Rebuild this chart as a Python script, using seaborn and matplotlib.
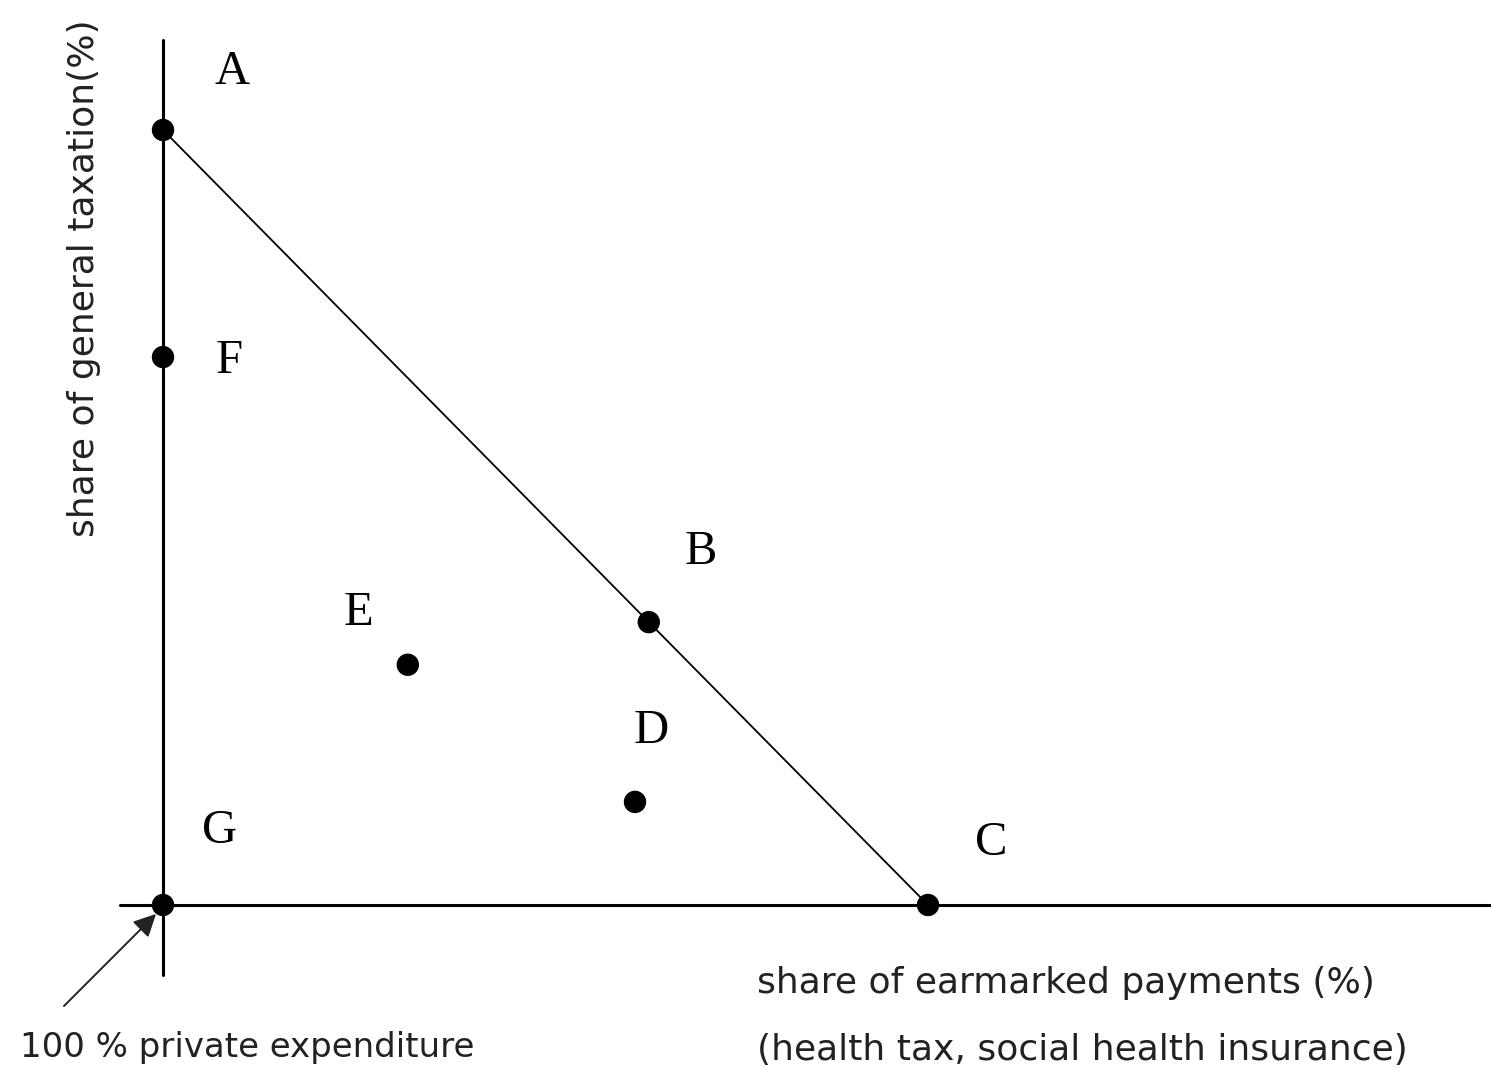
import matplotlib
matplotlib.use("Agg")
import matplotlib.pyplot as plt
import seaborn as sns
import pandas as pd

# points of the financing triangle (x: earmarked %, y: general taxation %)
labels = ["A", "F", "G", "B", "C", "E", "D"]
x_share = [0.0, 0.0, 0.0, 63.5, 100.0, 32.0, 61.7]
y_share = [100.0, 70.7, 0.0, 36.5, 0.0, 31.0, 13.3]

# frontier line from A to C
line_x = [0.0, 100.0]
line_y = [100.0, 0.0]

df = pd.DataFrame({"label": labels, "x": x_share, "y": y_share})
line_df = pd.DataFrame({"x": line_x, "y": line_y})

sns.set_style("white")
W, H = 1491, 1076
fig = plt.figure(figsize=(W / 100, H / 100), dpi=100)
ax = fig.add_axes([0, 0, 1, 1])

# pixel mapping: origin at (163, 905), 7.65 px per unit in x, 7.75 px per unit in y
sx, sy = 7.65, 7.75
ox, oy = 163, 905
ax.set_xlim(-ox / sx, (W - ox) / sx)
ax.set_ylim(-(H - oy) / sy, oy / sy)
ax.axis("off")

# axis lines
ax.plot([(120 - ox) / sx, (W - ox) / sx], [0, 0], color="black", lw=2.2)
ax.plot([0, 0], [(oy - 975) / sy, (oy - 40) / sy], color="black", lw=2.2)

sns.lineplot(data=line_df, x="x", y="y", color="black", lw=1.3, ax=ax)
sns.scatterplot(data=df, x="x", y="y", color="black", s=260, edgecolor="none", ax=ax, zorder=5)

# letter labels (offsets in pixels)
offsets = {"A": (69, 58), "F": (66, -4), "G": (57, 74), "B": (52, 70),
           "C": (63, 62), "E": (-49, 52), "D": (16, 71)}
for lab, x, y in zip(labels, x_share, y_share):
    dx, dy = offsets[lab]
    ax.text(x + dx / sx, y + dy / sy, lab, family="Liberation Serif", fontsize=35,
            ha="center", va="center", color="black")

sans = "DejaVu Sans"
fig.text(84 / W, 1 - 278 / H, "share of general taxation(%)", rotation=90,
         ha="center", va="center", fontsize=26, family=sans, color="#222222")
fig.text(757 / W, 1 - 983 / H, "share of earmarked payments (%)",
         ha="left", va="center", fontsize=26, family=sans, color="#222222")
fig.text(757 / W, 1 - 1050 / H, "(health tax, social health insurance)",
         ha="left", va="center", fontsize=26, family=sans, color="#222222")
fig.text(20 / W, 1 - 1047 / H, "100 % private expenditure",
         ha="left", va="center", fontsize=24.5, family=sans, color="#222222")

# arrow to the origin
ax.annotate("", xy=(-5 / sx, -7 / sy), xytext=((62 - ox) / sx, (oy - 1008) / sy),
            arrowprops=dict(arrowstyle="-|>", color="#222222", lw=1.4,
                            mutation_scale=34))

fig.savefig("out.png", dpi=100)
